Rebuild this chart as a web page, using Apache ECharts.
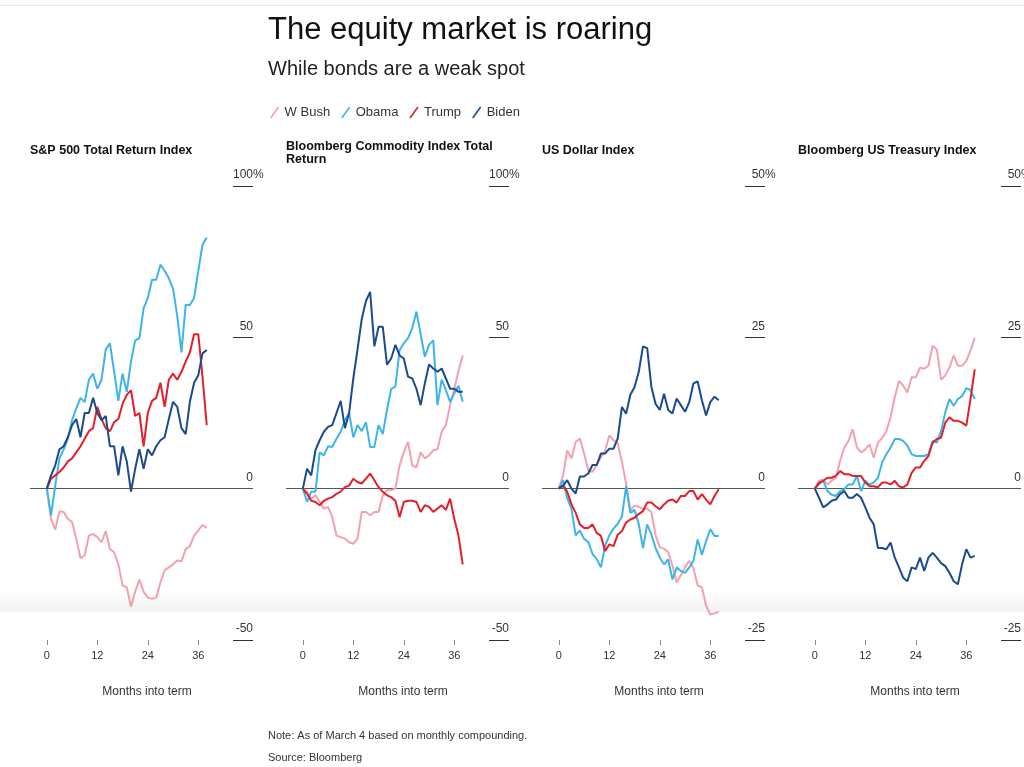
<!DOCTYPE html>
<html>
<head>
<meta charset="utf-8">
<script src="https://cdn.jsdelivr.net/npm/echarts@6/dist/echarts.min.js"></script>
<style>
html,body{margin:0;padding:0;background:#fff;}
#c{width:1024px;height:767px;}
</style>
</head>
<body>
<div id="c"></div>
<script>
// ---- data ----
const months = [0,1,2,3,4,5,6,7,8,9,10,11,12,13,14,15,16,17,18,19,20,21,22,23,24,25,26,27,28,29,30,31,32,33,34,35,36,37,38];
const xTicks = [0,12,24,36];
const eqTicks = [-50,0,50,100];
const fxTicks = [-25,0,25,50];
const presidents = ['W Bush','Obama','Trump','Biden'];
const panelTitles = ['S&P 500 Total Return Index','Bloomberg Commodity Index Total\nReturn','US Dollar Index','Bloomberg US Treasury Index'];

const spxBush  = [0,-10,-13.5,-7.5,-7.7,-10,-11,-16.6,-23,-22,-15.5,-15,-16,-17.7,-14,-20,-21,-25,-32,-32.6,-39,-34,-30,-34,-36,-36.4,-36,-31,-27,-26,-25,-23.7,-24,-20,-19,-15.5,-13.8,-12,-13];
const spxObama = [0,-8.8,1,10,13,16.5,22.6,26.5,30,28.6,36,38,33,36,46,48,38.6,29,38,32,42,49,49.7,59.6,63,69,69,74,72,69.5,66,57,45,60.7,60.7,63,72,80.6,83];
const spxTrump = [0,3.3,4.4,5.5,7,9,10,12,14,16.5,19,20,27,23,20,19,22,23,28,31,32.5,24,25,14,25,29,30,35,27,36,38,36,38.6,42,45,51,51,37,21];
const spxBiden = [0,4.4,7.7,13,14,17,21,23,17,25,25,30,25,22.6,24,14,14,4.4,14,9,-1,6.6,13,6.6,13,11,14,16,17,23,28.7,27,20,18,28.7,35,37.5,44.7,45.8];

const bcomBush  = [0,-1,-3.3,-2.2,-4.4,-6.6,-6,-9.4,-15.5,-16,-16.5,-17.7,-18.2,-16.5,-7.7,-7.7,-8.8,-7.7,-7.7,-2.2,-0.5,-0.5,0,7.7,12,15.5,7.7,7,12,10,11,12.7,13,18.8,21,27.6,33,39,44];
const bcomObama = [0,-4.4,-1,-1,12,11,14,13.8,16.5,18.8,22.6,25,17,21,19,22,13.8,13.8,21,18,26,33,33.7,45.8,48,49.7,53,58.5,51,43.6,47.5,49,27.6,36,32.6,28.7,31.5,34,28.7];
const bcomTrump = [0,-1.7,-4,-4.4,-5.5,-4,-3.3,-2.8,-1.7,-1,0.5,1,3.3,2.2,1.7,3.3,5,2.8,0.5,-1,-2.2,-2.8,-4,-9.4,-4.4,-4,-4,-4.4,-7.7,-5.5,-6,-7.7,-6.6,-5.5,-7,-3.3,-10,-15.5,-25];
const bcomBiden = [0,6.6,4.4,12.7,16,18.8,20.4,21,25,29,20,25,36.4,46,56,62,65,47,53.5,53.5,41,43,47.5,44,43,37,36.4,33,27.6,34.8,41,39.7,38.6,39.7,36.4,33,33,32,32];

const dxyBush  = [0,2.2,6.3,5,7.7,8.3,5.8,3,2.8,3.9,5.2,6.3,8.8,8,7.5,4.4,0.8,-3.6,-2.8,-3,-3.3,-3.3,-3.9,-7.7,-9.7,-9.9,-10.5,-12.7,-15.5,-14.3,-13,-11.9,-13.2,-16,-16.3,-19.3,-20.8,-20.6,-20.3];
const dxyObama = [0,1.4,-1.6,-3.3,-7.7,-6.9,-8.3,-8.8,-10.8,-11.6,-13,-9.4,-7.7,-6.6,-5.8,-4.6,0.4,-4,-3.5,-5.9,-9.8,-5.9,-7.6,-9.8,-11.4,-12.5,-11.7,-15,-13,-13.6,-13.9,-13,-11.9,-8.4,-10.9,-8.7,-6.7,-7.8,-7.8];
const dxyTrump = [0,0.5,-0.5,-2.6,-4,-5.9,-6.5,-6.5,-5.9,-7.3,-7.8,-10.3,-9.2,-9.5,-7.6,-7,-5.6,-5.1,-4.8,-4.2,-3.7,-2.3,-2.3,-2.9,-3.4,-2.6,-2,-1.8,-2.3,-1.2,-1.2,-0.4,-0.4,-1.8,-0.9,-1.8,-2.6,-1.2,-0.1];
const dxyBiden = [0,0.5,1.4,0,-0.8,2,2,2.5,3.9,3.9,5.8,5.8,6.6,6.6,8.3,13.5,12.4,15.5,16.8,19.3,23.5,23.2,16.8,14,13,15.7,13,12.4,14.9,13.8,12.7,14.3,17.4,17.7,14.6,12.1,14.3,15.2,14.6];

const tsyBush  = [0,1.3,1.5,0.7,1.3,1.8,4.6,6.8,7.9,9.8,6.8,6,6.5,7.3,5.1,7.6,8.4,9.5,11.8,15.1,17.8,17,15.9,18.4,18.4,20,19.8,20.3,23.6,23,18,18.7,20,22,20.3,20.3,21.1,22.8,24.9];
const tsyObama = [0,0.7,1.3,-0.4,-1,-1.2,-0.4,-0.1,0.7,0.7,2.1,-0.4,1.3,0.7,1,1.8,4.3,5.7,6.8,8.2,8.2,7.9,7.1,5.7,5.4,5.4,5.4,5.7,7.9,7.6,9.5,12.6,14.8,13.7,14.8,15.3,16.6,16.3,14.8];
const tsyTrump = [0,1,1.3,1.8,1.8,2.1,2.9,2.4,2.4,2.1,2.1,2.1,1,0.4,0.4,0.2,1,1,0.7,1.3,0.4,0.2,0.7,2.6,3.5,3.5,4.6,5.4,7.6,8.2,8.4,10.9,11.8,11.2,11.2,10.9,10.4,14.8,19.7];
const tsyBiden = [0,-1.5,-3.1,-2.6,-2,-1.8,-0.9,-0.4,-1.5,-1.5,-0.9,-1.5,-3.1,-4.8,-5.9,-9.8,-9.8,-10,-8.9,-11.4,-13,-14.7,-15.3,-13,-13.3,-11.4,-13.6,-11.4,-10.6,-11.4,-12.3,-12.8,-13.9,-15.3,-15.8,-12.5,-10,-11.4,-11.1];

// ---- chart ----
const colors = ['#f3a1ae','#3db4ea','#e21f2b','#1b4a8d'];
const panels = [
  {title: panelTitles[0], ticks: eqTicks, series: [spxBush, spxObama, spxTrump, spxBiden]},
  {title: panelTitles[1], ticks: eqTicks, series: [bcomBush, bcomObama, bcomTrump, bcomBiden]},
  {title: panelTitles[2], ticks: fxTicks, series: [dxyBush, dxyObama, dxyTrump, dxyBiden]},
  {title: panelTitles[3], ticks: fxTicks, series: [tsyBush, tsyObama, tsyTrump, tsyBiden]}
];
const FONT = 'Liberation Sans, Arial, sans-serif';
const grids = [], xAxes = [], yAxes = [], series = [];
const titles = [
  {text: 'The equity market is roaring', left: 268, top: 15, padding: 0, textStyle: {fontFamily: FONT, fontSize: 31, fontWeight: 'normal', color: '#111'}},
  {text: 'While bonds are a weak spot', left: 268, top: 59, padding: 0, textStyle: {fontFamily: FONT, fontSize: 20, fontWeight: 'normal', color: '#222'}},
  {text: 'Note: As of March 4 based on monthly compounding.', left: 268, top: 730, padding: 0, textStyle: {fontFamily: FONT, fontSize: 11, fontWeight: 'normal', color: '#333'}},
  {text: 'Source: Bloomberg', left: 268, top: 752, padding: 0, textStyle: {fontFamily: FONT, fontSize: 11, fontWeight: 'normal', color: '#333'}}
];

panels.forEach((p, i) => {
  const left = 30 + 256 * i;
  const tmin = p.ticks[0], tmax = p.ticks[p.ticks.length - 1];
  const step = p.ticks[1] - p.ticks[0];
  grids.push({left: left, top: 186, width: 223, height: 454, outerBoundsMode: 'none', containLabel: false});
  titles.push({text: p.title, left: 30 + 256 * i, top: i === 1 ? 140 : 144.5, padding: 0,
    textStyle: {fontFamily: FONT, fontSize: 12.5, fontWeight: 'bold', color: '#111', lineHeight: 13}});
  xAxes.push({
    type: 'value', gridIndex: i, min: -4, max: 49,
    axisLine: {show: false, onZero: false}, splitLine: {show: false},
    axisTick: {show: true, customValues: xTicks, length: 5, lineStyle: {color: '#888', width: 1}},
    axisLabel: {customValues: xTicks, margin: 10, fontFamily: FONT, fontSize: 11, color: '#333'},
    name: 'Months into term', nameLocation: 'middle', nameGap: 46,
    nameTextStyle: {fontFamily: FONT, fontSize: 12, color: '#333', padding: [0, 0, 0, 11]}
  });
  yAxes.push({
    type: 'value', gridIndex: i, position: 'right', min: tmin, max: tmax, interval: step,
    axisLine: {show: false, onZero: false}, splitLine: {show: false},
    axisTick: {show: true, inside: true, length: 20, lineStyle: {color: '#333', width: 1}},
    axisLabel: {inside: true, margin: 0, align: 'right', verticalAlign: 'bottom', padding: [0, 0, 5, 0],
      fontFamily: FONT, fontSize: 12, color: '#333', showMinLabel: true, showMaxLabel: true}
  });
  yAxes.push({
    type: 'value', gridIndex: i, position: 'right', min: tmin, max: tmax, interval: step,
    axisLine: {show: false, onZero: false}, splitLine: {show: false}, axisTick: {show: false},
    axisLabel: {inside: false, margin: 0, align: 'left', verticalAlign: 'bottom', padding: [0, 0, 5, 0],
      fontFamily: FONT, fontSize: 12, color: '#333',
      formatter: v => (v === tmax ? '%' : '')}
  });
  p.series.forEach((vals, k) => {
    const s = {
      type: 'line', name: presidents[k], xAxisIndex: i, yAxisIndex: 2 * i,
      data: months.map((m, j) => [m, vals[j]]),
      showSymbol: false, symbol: 'none', smooth: false,
      lineStyle: {color: colors[k], width: 2}, itemStyle: {color: colors[k]},
      z: 3 + k
    };
    if (k === 0) {
      s.markLine = {silent: true, symbol: 'none', label: {show: false},
        lineStyle: {color: '#555', width: 1.2, type: 'solid'},
        emphasis: {disabled: true}, data: [{yAxis: 0}], z: 2};
    }
    series.push(s);
  });
});

const chart = echarts.init(document.getElementById('c'), null, {renderer: 'canvas'});
chart.setOption({
  backgroundColor: '#fff',
  animation: false,
  title: titles,
  legend: {
    left: 270, top: 106, padding: 0, itemWidth: 10, itemHeight: 12, itemGap: 11,
    icon: 'path://M0,12 L8.6,0 L10,1 L1.4,13 Z',
    textStyle: {fontFamily: FONT, fontSize: 13, color: '#333'},
    data: presidents
  },
  graphic: [
    {type: 'rect', left: 0, top: 5, z: 0, shape: {width: 1024, height: 1}, style: {fill: '#e6e6e6'}},
    {type: 'rect', left: 0, top: 590, z: 0, shape: {width: 1024, height: 22},
      style: {fill: new echarts.graphic.LinearGradient(0, 0, 0, 1, [{offset: 0, color: 'rgba(242,242,242,0)'}, {offset: 1, color: 'rgba(242,242,242,1)'}])}}
  ],
  grid: grids,
  xAxis: xAxes,
  yAxis: yAxes,
  series: series
});
</script>
</body>
</html>
